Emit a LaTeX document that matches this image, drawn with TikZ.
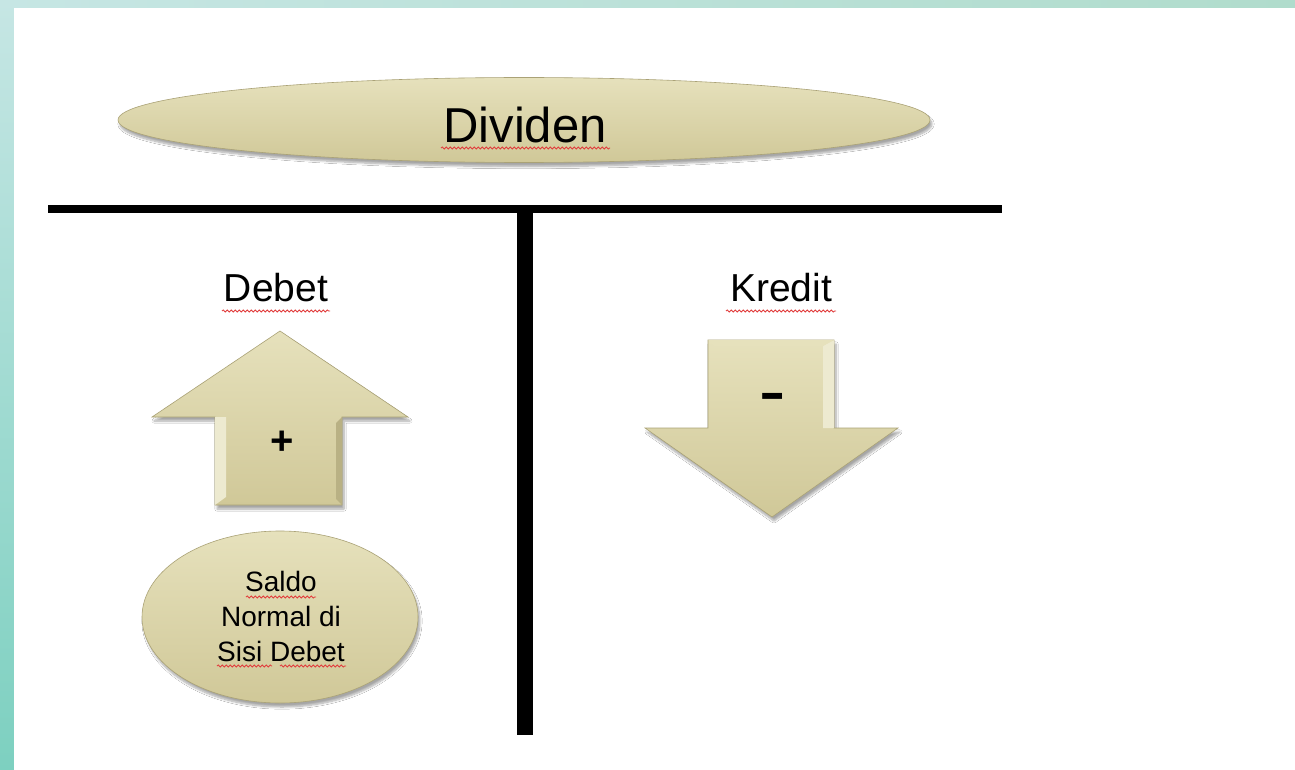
\documentclass[tikz,border=0pt]{standalone}
\usepackage{fontspec}
\setmainfont{Liberation Sans}
\usetikzlibrary{shadows.blur,decorations.pathmorphing,shapes.geometric}
\definecolor{beige}{RGB}{208,200,152}
\definecolor{beigelt}{RGB}{230,225,188}
\definecolor{beigedk}{RGB}{170,162,118}
\definecolor{tealA}{RGB}{198,230,228}
\definecolor{tealB}{RGB}{176,220,204}
\definecolor{tealC}{RGB}{125,208,192}
\definecolor{squig}{RGB}{225,60,60}
\tikzset{
  shapefill/.style={top color=beigelt, bottom color=beige, draw=beigedk, line width=0.6pt,
    blur shadow={shadow xshift=2pt, shadow yshift=-4pt, shadow blur steps=8, shadow opacity=35}},
  lbl/.style={inner sep=0pt, text=black},
  squiggle/.style={draw=squig, line width=0.8pt, decorate,
    decoration={snake, amplitude=1.1pt, segment length=4pt}},
  tline/.style={fill=black}
}
\begin{document}
\begin{tikzpicture}[x=1pt,y=-1pt]
\useasboundingbox (0,0) rectangle (1295,770);
% background frame
\shade[top color=tealA, bottom color=tealC] (0,0) rectangle (14,770);
\shade[left color=tealA, right color=tealB] (0,0) rectangle (1295,8);
\fill[white] (14,8) rectangle (1295,770);

% title ellipse
\node[ellipse, shapefill, minimum width=812pt, minimum height=85pt, inner sep=0pt] (div) at (524,120) {};
\node[lbl, font=\fontsize{49}{56}\selectfont] (divt) at (525,125) {Dividen};
\draw[squiggle] (441,148) -- (610,148);

% T account
\coordinate (hl) at (48,205);
\coordinate (hr) at (1002,213);
\fill[tline] (hl) rectangle (hr);
\coordinate (vt) at (517,205);
\coordinate (vb) at (533,735);
\fill[tline] (vt) rectangle (vb);

% column labels
\node[lbl, font=\fontsize{39}{44}\selectfont] (deb) at (276,288) {Debet};
\draw[squiggle] (222,311) -- (330,311);
\node[lbl, font=\fontsize{39}{44}\selectfont] (kre) at (781,288) {Kredit};
\draw[squiggle] (726,311) -- (836,311);

% up arrow
\path[shapefill] (280,331) -- (408,417) -- (342,417) -- (342,505) -- (215,505) -- (215,417) -- (152,417) -- cycle;
\fill[beigelt!70!white] (215,417) -- (226,417) -- (226,497) -- (215,505) -- cycle;
\fill[beigedk!60!beige] (342,417) -- (336,423) -- (336,499) -- (342,505) -- cycle;
\node[lbl, font=\bfseries\fontsize{40}{44}\selectfont] (plus) at (282,443) {+};

% down arrow
\path[shapefill] (708,340) -- (834,340) -- (834,428) -- (898,428) -- (772,517) -- (645,428) -- (708,428) -- cycle;
\fill[beigelt!70!white] (834,340) -- (823,346) -- (823,428) -- (834,428) -- cycle;
\fill[beigelt] (708,340) -- (834,340) -- (823,346) -- (714,346) -- cycle;
\node[lbl, font=\bfseries\fontsize{40}{44}\selectfont, yscale=1.5] (minus) at (773,403) {–};

% saldo ellipse
\node[ellipse, shapefill, minimum width=276pt, minimum height=172pt, inner sep=0pt] (saldo) at (280,617) {};
\node[lbl, font=\fontsize{28}{35}\selectfont, align=center] (saldot) at (281,616) {Saldo\\Normal di\\Sisi Debet};
\draw[squiggle] (246,597) -- (316,597);
\draw[squiggle] (217,666) -- (272,666);
\draw[squiggle] (280,666) -- (346,666);
\end{tikzpicture}
\end{document}
